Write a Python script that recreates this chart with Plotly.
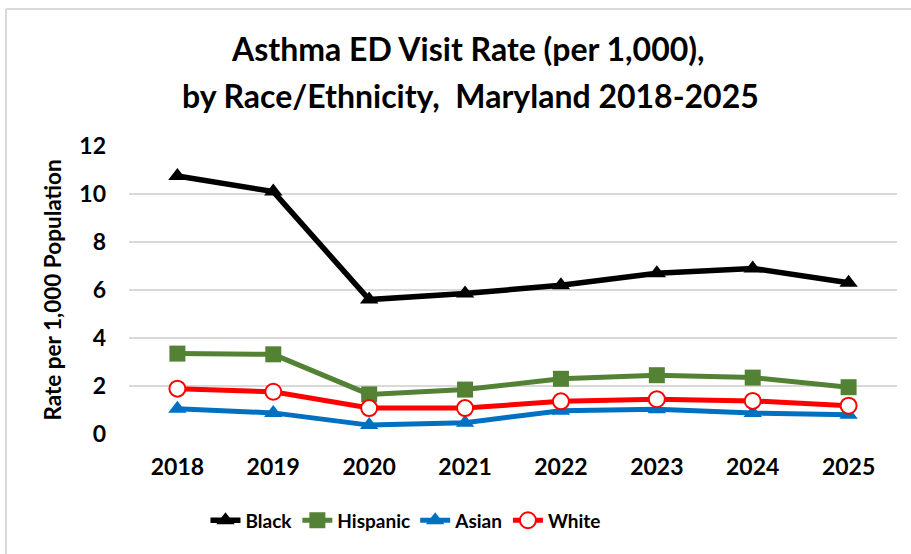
import plotly.graph_objects as go

# Asthma emergency-department visit rates per 1,000 population
years = ["2018", "2019", "2020", "2021", "2022", "2023", "2024", "2025"]
black = [10.75, 10.1, 5.6, 5.85, 6.2, 6.7, 6.9, 6.3]
hispanic = [3.35, 3.32, 1.65, 1.85, 2.3, 2.45, 2.35, 1.95]
asian = [1.05, 0.88, 0.37, 0.47, 0.97, 1.03, 0.87, 0.8]
white = [1.89, 1.76, 1.08, 1.08, 1.36, 1.45, 1.38, 1.18]

FONT = "Lato"

fig = go.Figure()

fig.add_trace(go.Scatter(
    x=years, y=black, name="Black", mode="lines+markers",
    line=dict(color="#000000", width=5.5),
    marker=dict(symbol="triangle-up", size=16, color="#000000"),
))
fig.add_trace(go.Scatter(
    x=years, y=hispanic, name="Hispanic", mode="lines+markers",
    line=dict(color="#548235", width=5),
    marker=dict(symbol="square", size=16, color="#548235"),
))
fig.add_trace(go.Scatter(
    x=years, y=asian, name="Asian", mode="lines+markers",
    line=dict(color="#0070C0", width=5),
    marker=dict(symbol="triangle-up", size=16, color="#0070C0"),
))
fig.add_trace(go.Scatter(
    x=years, y=white, name="White", mode="lines+markers",
    line=dict(color="#FF0000", width=5),
    marker=dict(symbol="circle", size=16, color="#FFFFFF",
                line=dict(color="#FF0000", width=2)),
))

fig.update_layout(
    width=911, height=554,
    margin=dict(l=129, r=14, t=146, b=120),
    paper_bgcolor="white", plot_bgcolor="white",
    font=dict(family=FONT, color="#000000"),
    showlegend=True,
    legend=dict(
        orientation="h", x=0.36, xanchor="center", y=-0.3, yanchor="middle",
        font=dict(family=FONT, size=19, color="#000000", weight="bold"),
        itemwidth=30, traceorder="normal", bgcolor="rgba(0,0,0,0)",
    ),
    xaxis=dict(
        type="category", showgrid=False, zeroline=False, showline=False,
        ticks="", ticklabelstandoff=17,
        tickfont=dict(family=FONT, size=23, color="#000000", weight="bold"),
    ),
    yaxis=dict(
        range=[0, 12], dtick=2, showgrid=True, gridcolor="#d9d9d9", gridwidth=2,
        zeroline=False, showline=False, ticks="", ticklabelstandoff=22,
        tickfont=dict(family=FONT, size=23, color="#000000", weight="bold"),
        title=dict(text="Rate per 1,000 Population", standoff=11,
                   font=dict(family=FONT, size=22.5, color="#000000", weight="bold")),
    ),
    annotations=[
        dict(text="Asthma ED Visit Rate (per 1,000),", xref="paper", yref="paper",
             x=(468 - 129) / 768, y=(434 - 48) / 288, xanchor="center", yanchor="middle",
             showarrow=False, font=dict(family=FONT, size=32, color="#000000", weight="bold")),
        dict(text="by Race/Ethnicity,  Maryland 2018-2025", xref="paper", yref="paper",
             x=(470 - 129) / 768, y=(434 - 96) / 288, xanchor="center", yanchor="middle",
             showarrow=False, font=dict(family=FONT, size=32, color="#000000", weight="bold")),
    ],
    shapes=[
        # chart-area frame: top and left edges
        dict(type="line", xref="paper", yref="paper",
             x0=(6 - 129) / 768, x1=1.2, y0=(434 - 9) / 288, y1=(434 - 9) / 288,
             line=dict(color="#d9d9d9", width=2)),
        dict(type="line", xref="paper", yref="paper",
             x0=(6 - 129) / 768, x1=(6 - 129) / 768, y0=(434 - 9) / 288, y1=-0.6,
             line=dict(color="#d9d9d9", width=2)),
    ],
)

fig.write_html("out.html")
